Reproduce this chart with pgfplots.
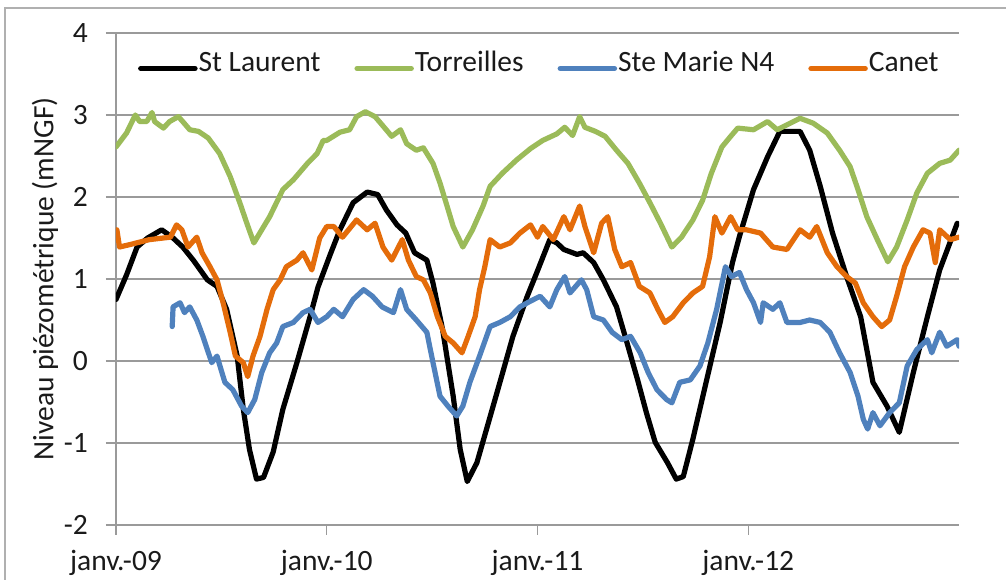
\documentclass[border=0pt]{standalone}
\usepackage{pgfplots}
\pgfplotsset{compat=1.18}
\usepackage{fontspec}
\setmainfont{Carlito}
\definecolor{cgreen}{HTML}{9BBB59}
\definecolor{cblue}{HTML}{4F81BD}
\definecolor{corange}{HTML}{E46C0A}
\definecolor{cgrid}{HTML}{9A9A9A}
\definecolor{cframe}{HTML}{B0B0B0}
\definecolor{ctext}{HTML}{1A1A1A}
\begin{document}
\begin{tikzpicture}[x=1pt,y=1pt]
\useasboundingbox (-116,-55) rectangle (890,525);
\draw[cframe, line width=1.5pt] (-111,-60) -- (-111,517) -- (900,517);
\begin{axis}[
  at={(0,0)}, anchor=south west,
  scale only axis, width=843pt, height=492pt,
  xmin=0, xmax=48, ymin=-2, ymax=4,
  axis lines*=left,
  axis line style={cgrid, line width=1.3pt},
  xtick={0,12,24,36},
  xticklabels={janv.-09,janv.-10,janv.-11,janv.-12},
  ytick={-2,-1,0,1,2,3,4},
  yticklabels={-2,-1,0,1,2,3,4},
  ymajorgrids, grid style={cgrid, line width=1.3pt},
  tick align=outside, major tick length=10pt,
  tick style={cgrid, line width=1.3pt},
  xtick style={cgrid}, 
  ticklabel style={font=\fontsize{29.5}{35}\selectfont, text=ctext},
  xticklabel style={anchor=base, inner sep=0pt, yshift=-35pt},
  yticklabel style={anchor=east, inner sep=0pt, xshift=-18pt},
  ylabel={Niveau piézométrique (mNGF)},
  ylabel style={at={(axis description cs:-0.0842,0.5)}, anchor=center, font=\fontsize{29.5}{35}\selectfont, text=ctext, inner sep=0pt},
  legend columns=4,
  legend style={at={(axis description cs:0.026,0.941)}, anchor=west, draw=none, fill=none, inner sep=0pt,
     font=\fontsize{29.5}{35}\selectfont, text=ctext,
     nodes={inner sep=0pt, anchor=base west},
     /tikz/every odd column/.append style={column sep=1pt},
     /tikz/every even column/.append style={column sep=34pt}},
  legend image code/.code={\draw[#1, line width=5.5pt, line cap=round] (0pt,0.3em) -- (54pt,0.3em);},
  every axis plot/.append style={line width=5.2pt, line join=round, line cap=round},
  clip=true,
]
\addplot[black] table {
0 0.75
0.6 1.05
1.2 1.39
1.8 1.50
2.6 1.60
3.2 1.51
3.8 1.39
4.4 1.23
5.2 0.99
5.75 0.91
6.3 0.63
6.9 0.06
7.25 -0.59
7.6 -1.08
8.0 -1.44
8.4 -1.42
8.95 -1.11
9.5 -0.59
10.3 -0.02
11.05 0.54
11.5 0.90
12.2 1.30
12.75 1.60
13.5 1.93
14.3 2.06
14.9 2.03
15.4 1.84
16 1.66
16.5 1.56
17 1.32
17.7 1.23
18.05 0.95
18.6 0.38
19.2 -0.43
19.6 -1.08
20 -1.47
20.55 -1.24
21.1 -0.83
21.9 -0.23
22.6 0.30
23.4 0.78
24 1.10
24.7 1.48
25.1 1.44
25.5 1.36
26.25 1.30
26.6 1.32
27.2 1.20
27.75 0.99
28.5 0.66
29.1 0.22
29.7 -0.23
30.2 -0.63
30.7 -0.99
31.4 -1.24
31.9 -1.44
32.3 -1.41
32.85 -0.95
33.6 -0.26
34.4 0.47
35.1 1.20
35.5 1.52
36.3 2.09
37.1 2.49
37.8 2.80
38.95 2.80
39.5 2.57
40.1 2.13
40.8 1.56
41.6 1.03
42.4 0.54
43.1 -0.26
43.9 -0.55
44.6 -0.87
45.4 -0.14
46.2 0.54
46.9 1.11
47.9 1.68
};
\addlegendentry{St Laurent}
\addplot[cgreen] table {
0 2.61
0.6 2.78
1.1 3.00
1.35 2.92
1.75 2.92
2.05 3.03
2.2 2.92
2.7 2.84
3.05 2.92
3.55 2.98
3.8 2.92
4.2 2.82
4.7 2.80
5.25 2.72
5.9 2.53
6.5 2.25
7.05 1.93
7.45 1.68
7.85 1.44
8.3 1.60
8.75 1.76
9.5 2.09
10.1 2.21
10.9 2.41
11.45 2.53
11.8 2.69
12.0 2.69
12.75 2.79
13.3 2.82
13.7 2.98
14.2 3.04
14.75 2.98
15.15 2.88
15.7 2.74
16.2 2.82
16.55 2.65
17.1 2.57
17.5 2.60
18.05 2.41
18.45 2.17
18.85 1.89
19.2 1.64
19.75 1.39
20.3 1.60
20.9 1.89
21.3 2.13
22 2.29
22.8 2.45
23.6 2.59
24.3 2.69
25.1 2.77
25.55 2.85
26 2.75
26.4 2.98
26.7 2.85
27.3 2.80
27.85 2.74
28.5 2.57
29.15 2.41
29.8 2.17
30.4 1.93
31 1.68
31.65 1.39
32.2 1.51
32.85 1.72
33.4 1.96
33.9 2.29
34.5 2.61
35 2.74
35.4 2.84
36.3 2.82
37.1 2.92
37.65 2.82
38.2 2.88
38.95 2.96
39.7 2.90
40.5 2.78
41.2 2.57
41.8 2.37
42.25 2.09
42.75 1.76
43.35 1.48
43.95 1.21
44.45 1.39
45.05 1.72
45.6 2.05
46.2 2.29
46.9 2.41
47.5 2.45
48 2.57
};
\addlegendentry{Torreilles}
\addplot[cblue] table {
3.2 0.42
3.25 0.66
3.65 0.71
3.9 0.59
4.2 0.66
4.6 0.50
4.95 0.30
5.45 -0.02
5.75 0.06
6.2 -0.26
6.65 -0.35
7.15 -0.55
7.5 -0.63
7.9 -0.47
8.3 -0.14
8.75 0.10
9.15 0.22
9.5 0.42
10.1 0.47
10.65 0.59
11.05 0.63
11.5 0.47
12 0.54
12.4 0.63
12.9 0.54
13.5 0.75
14.1 0.87
14.6 0.79
15.15 0.66
15.8 0.59
16.2 0.87
16.55 0.63
17.1 0.50
17.7 0.35
18.05 -0.02
18.45 -0.43
18.9 -0.55
19.4 -0.67
19.75 -0.55
20.15 -0.26
20.7 0.06
21.3 0.42
21.85 0.47
22.45 0.54
23 0.66
23.6 0.73
24.15 0.79
24.7 0.66
25.1 0.87
25.55 1.03
25.85 0.83
26.5 0.99
26.8 0.87
27.2 0.54
27.75 0.50
28.25 0.35
28.8 0.26
29.3 0.30
29.85 0.10
30.3 -0.14
30.8 -0.35
31.35 -0.47
31.65 -0.51
32.1 -0.26
32.7 -0.23
33.25 -0.06
33.7 0.22
34.2 0.63
34.7 1.15
35.05 1.03
35.5 1.08
35.9 0.87
36.3 0.71
36.7 0.47
36.85 0.71
37.4 0.63
37.8 0.71
38.2 0.47
38.95 0.47
39.5 0.50
40.1 0.47
40.65 0.35
41.2 0.10
41.8 -0.14
42.25 -0.43
42.55 -0.71
42.8 -0.83
43.1 -0.63
43.5 -0.79
44.05 -0.63
44.6 -0.51
45.05 -0.06
45.6 0.14
46.2 0.26
46.45 0.10
46.9 0.35
47.3 0.18
47.9 0.26
48 0.18
};
\addlegendentry{Ste Marie N4}
\addplot[corange] table {
0.05 1.60
0.2 1.39
0.8 1.42
1.9 1.48
3.1 1.51
3.45 1.66
3.75 1.60
4.1 1.39
4.6 1.51
4.9 1.32
5.35 1.15
5.75 0.99
6.1 0.71
6.5 0.35
6.8 0.06
7.25 -0.02
7.5 -0.19
7.8 0.06
8.2 0.30
8.6 0.63
8.95 0.87
9.35 0.99
9.7 1.15
10.3 1.23
10.65 1.32
11.15 1.11
11.6 1.50
12 1.64
12.4 1.64
12.9 1.51
13.7 1.72
14.3 1.60
14.75 1.68
15.2 1.39
15.7 1.23
16.3 1.48
16.65 1.23
17.1 1.03
17.5 0.99
17.9 0.83
18.3 0.54
18.75 0.30
19.2 0.22
19.7 0.10
20.05 0.30
20.45 0.54
20.7 0.87
21 1.15
21.3 1.48
21.85 1.39
22.45 1.44
23 1.56
23.6 1.66
24 1.51
24.3 1.64
24.9 1.48
25.5 1.76
25.85 1.60
26.4 1.89
26.7 1.64
27.2 1.32
27.65 1.68
28 1.76
28.4 1.36
28.8 1.15
29.3 1.20
29.8 0.91
30.4 0.83
30.85 0.63
31.25 0.47
31.7 0.54
32.3 0.71
32.85 0.83
33.4 0.91
33.8 1.27
34.1 1.76
34.5 1.56
35 1.76
35.4 1.60
35.9 1.60
36.7 1.56
37.4 1.39
38.2 1.36
38.95 1.60
39.5 1.51
39.9 1.64
40.5 1.32
41.05 1.15
41.6 1.03
42.1 0.95
42.55 0.71
43.1 0.54
43.6 0.42
44.05 0.50
44.45 0.79
44.9 1.15
45.4 1.39
45.95 1.60
46.35 1.56
46.65 1.20
46.9 1.60
47.5 1.48
48 1.51
};
\addlegendentry{Canet}
\end{axis}
\end{tikzpicture}
\end{document}
